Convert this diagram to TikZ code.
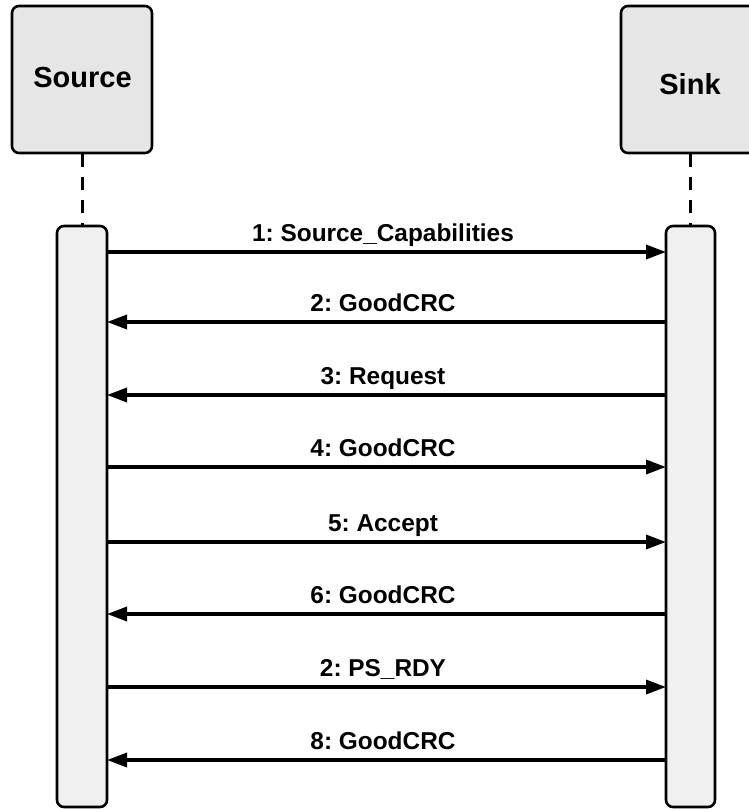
\documentclass[tikz,border=0pt]{standalone}
\usepackage{fontspec}
\setmainfont{Liberation Sans}
\usetikzlibrary{arrows.meta}
\definecolor{boxgray}{HTML}{E6E6E6}
\definecolor{bargray}{HTML}{F0F0F0}
\frenchspacing
\begin{document}
\begin{tikzpicture}[x=1pt,y=1pt,
  actor/.style={draw=black, line width=2.6pt, fill=boxgray, rounded corners=7pt},
  actbar/.style={draw=black, line width=2.6pt, fill=bargray, rounded corners=7pt},
  lifeline/.style={line width=3pt, dash pattern=on 13pt off 10pt},
  msg/.style={line width=3.4pt, -{Triangle[length=20pt,width=14pt]}},
  title/.style={font=\fontsize{29}{33}\selectfont\bfseries, inner sep=0pt},
  lbl/.style={font=\fontsize{24.4}{28}\selectfont\bfseries, inner sep=0pt, anchor=base}
]
\useasboundingbox (0,0) rectangle (749,-809);
\clip (0,0) rectangle (749,-809);
% actors
\draw[actor] (12,-6) rectangle (152,-153);
\node[title] (src) at (82.5,-78) {Source};
\draw[actor] (621,-6) rectangle (765,-153);
\node[title] (snk) at (690,-84.5) {Sink};
% lifelines
\coordinate (srcB) at (82,-154);
\coordinate (srcT) at (82,-226);
\coordinate (snkB) at (690,-154);
\coordinate (snkT) at (690,-226);
\draw[lifeline] (srcB) -- (srcT);
\draw[lifeline] (snkB) -- (snkT);
% activation bars
\draw[actbar] (57,-226) rectangle (107,-807);
\draw[actbar] (666,-226) rectangle (715,-807);
% messages
\foreach \i/\y/\d/\t in {1/252/r/{1: Source\_Capabilities},
                         2/322/l/{2: GoodCRC},
                         3/395/l/{3: Request},
                         4/467/r/{4: GoodCRC},
                         5/542/r/{5: Accept},
                         6/614/l/{6: GoodCRC},
                         7/687/r/{2: PS\_RDY},
                         8/760/l/{8: GoodCRC}}{
  \coordinate (L\i) at (107,-\y);
  \coordinate (R\i) at (666,-\y);
  \if\d r
    \draw[msg] (L\i) -- (R\i);
  \else
    \draw[msg] (R\i) -- (L\i);
  \fi
  \node[lbl] (m\i) at (383,-\y+11) {\t};
}
\end{tikzpicture}
\end{document}
